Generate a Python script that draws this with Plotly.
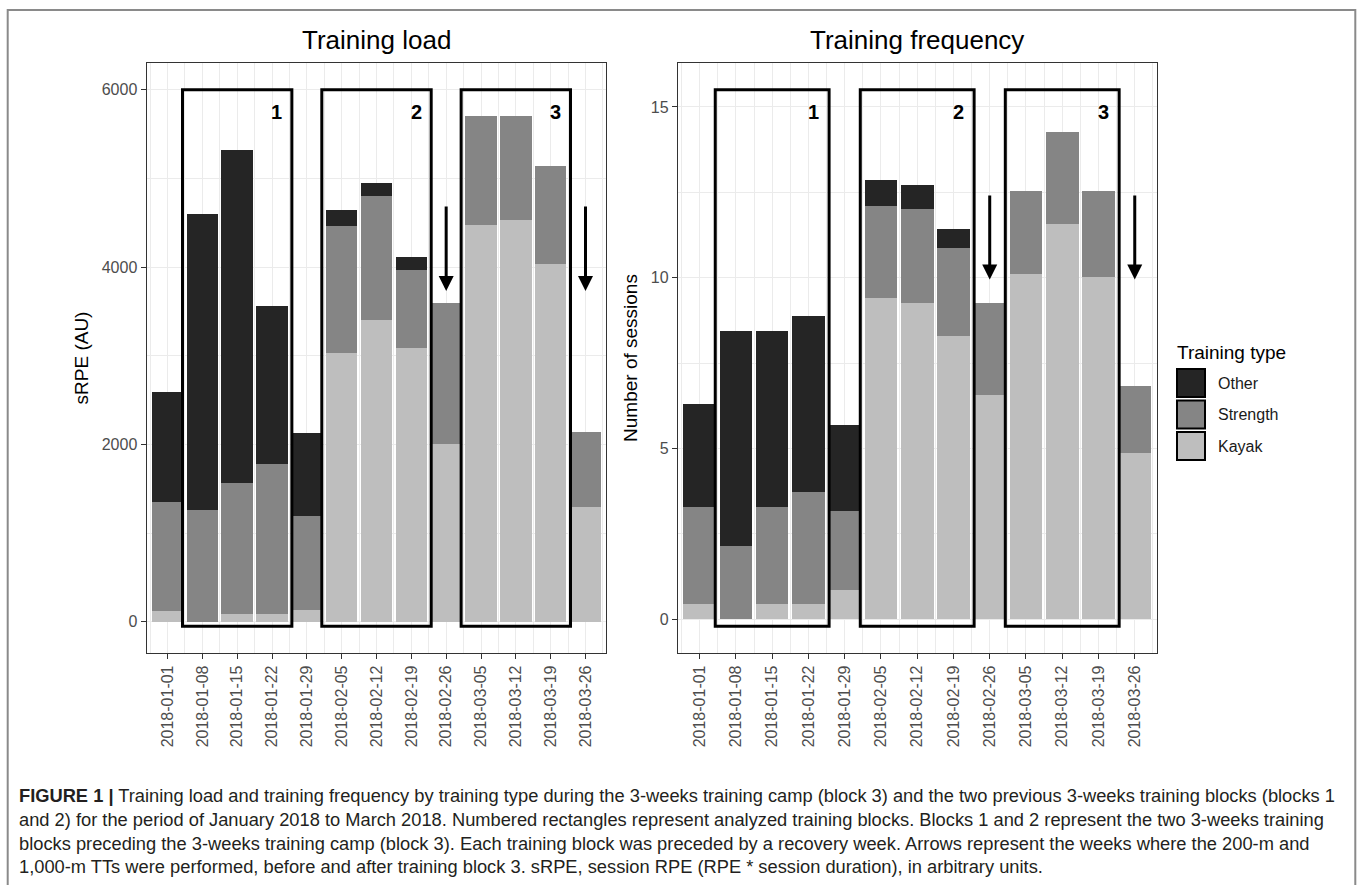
import plotly.graph_objects as go

# ---------------- data ----------------
weeks = ["2018-01-01", "2018-01-08", "2018-01-15", "2018-01-22", "2018-01-29",
         "2018-02-05", "2018-02-12", "2018-02-19", "2018-02-26", "2018-03-05",
         "2018-03-12", "2018-03-19", "2018-03-26"]

load_kayak = [117, 0, 90, 90, 128, 3036, 3405, 3093, 2010, 4479, 4528, 4031, 1296]
load_strength = [1235, 1266, 1477, 1692, 1062, 1431, 1394, 873, 1580, 1224, 1175, 1114, 843]
load_other = [1243, 3333, 3759, 1777, 934, 181, 150, 151, 0, 0, 0, 0, 0]

freq_kayak = [0.44, 0.0, 0.44, 0.44, 0.86, 9.42, 9.26, 8.30, 6.58, 10.12, 11.58, 10.02, 4.88]
freq_strength = [2.84, 2.16, 2.84, 3.28, 2.31, 2.69, 2.74, 2.57, 2.68, 2.43, 2.69, 2.53, 1.96]
freq_other = [3.01, 6.27, 5.15, 5.15, 2.53, 0.76, 0.71, 0.55, 0, 0, 0, 0, 0]

types = ["Other", "Strength", "Kayak"]
type_colors = ["#252525", "#858585", "#bebebe"]

block_labels = ["1", "2", "3"]
block_first = ["2018-01-08", "2018-02-05", "2018-03-05"]
block_last = ["2018-01-22", "2018-02-19", "2018-03-19"]
tt_weeks = ["2018-02-26", "2018-03-26"]

panel_titles = ["Training load", "Training frequency"]
y_titles = ["sRPE (AU)", "Number of sessions"]
y_ticks_load = [0, 2000, 4000, 6000]
y_ticks_freq = [0, 5, 10, 15]

caption_lines = [
    "<b>FIGURE 1 |</b> Training load and training frequency by training type during the 3-weeks training camp (block 3) and the two previous 3-weeks training blocks (blocks 1",
    "and 2) for the period of January 2018 to March 2018. Numbered rectangles represent analyzed training blocks. Blocks 1 and 2 represent the two 3-weeks training",
    "blocks preceding the 3-weeks training camp (block 3). Each training block was preceded by a recovery week. Arrows represent the weeks where the 200-m and",
    "1,000-m TTs were performed, before and after training block 3. sRPE, session RPE (RPE * session duration), in arbitrary units.",
]

# ---------------- layout constants ----------------
W, H = 1358, 885
FONT = "Liberation Sans, Arial, Helvetica, sans-serif"
pos = list(range(1, len(weeks) + 1))

def px_x(p):
    return p / W

def px_y(p):
    return 1 - p / H

dom_y = [px_y(653), px_y(63)]
dom_x1 = [px_x(146.6), px_x(606.4)]
dom_x2 = [px_x(677.9), px_x(1156.5)]

fig = go.Figure()

col = dict(zip(types, type_colors))
for xa, ya, kay, st, oth in [("x", "y", load_kayak, load_strength, load_other),
                             ("x2", "y2", freq_kayak, freq_strength, freq_other)]:
    for name, vals in [("Kayak", kay), ("Strength", st), ("Other", oth)]:
        fig.add_trace(go.Bar(x=pos, y=vals, name=name, width=0.9,
                             marker=dict(color=col[name], line=dict(width=0)),
                             xaxis=xa, yaxis=ya, showlegend=False))

def xaxis(domain, anchor):
    return dict(domain=domain, anchor=anchor, range=[0.4, 13.6],
                tickmode="array", tickvals=pos, ticktext=weeks, tickangle=-90,
                ticks="outside", ticklen=5, tickwidth=1, tickcolor="#333333",
                showline=True, mirror=True, linecolor="#333333", linewidth=1.2,
                showgrid=True, gridcolor="#ebebeb", gridwidth=1.1, zeroline=False,
                tickfont=dict(family=FONT, size=16, color="#4d4d4d"),
                minor=dict(tickmode="linear", tick0=0.5, dtick=1, showgrid=True,
                           gridcolor="#ebebeb", gridwidth=0.6, ticks=""))

def yaxis(domain, anchor, rng, tickvals, minor_d, title):
    return dict(domain=domain, anchor=anchor, range=rng,
                tickmode="array", tickvals=tickvals,
                ticks="outside", ticklen=5, tickwidth=1, tickcolor="#333333",
                showline=True, mirror=True, linecolor="#333333", linewidth=1.2,
                showgrid=True, gridcolor="#ebebeb", gridwidth=1.1, zeroline=False,
                tickfont=dict(family=FONT, size=16, color="#4d4d4d"),
                title=dict(text=title, font=dict(family=FONT, size=19, color="#000000"), standoff=8),
                minor=dict(tickmode="linear", tick0=0, dtick=minor_d, showgrid=True,
                           gridcolor="#ebebeb", gridwidth=0.6, ticks=""))

box_y = {"y": (-50, 6000), "y2": (-0.2, 15.5)}
arrow_y = {"y": (4700, 3730), "y2": (12.45, 9.95)}

fig.update_layout(
    width=W, height=H, margin=dict(l=0, r=0, t=0, b=0),
    paper_bgcolor="white", plot_bgcolor="white", barmode="stack", showlegend=False,
    font=dict(family=FONT),
    xaxis=xaxis(dom_x1, "y"),
    xaxis2=xaxis(dom_x2, "y2"),
    yaxis=yaxis(dom_y, "x", [-352.5, 6302.5], y_ticks_load, 1000, y_titles[0]),
    yaxis2=yaxis(dom_y, "x2", [-0.985, 16.285], y_ticks_freq, 2.5, y_titles[1]),
)

shapes = []
annotations = []

# block rectangles, numbers, arrows
for xa, ya in [("x", "y"), ("x2", "y2")]:
    y0, y1 = box_y[ya]
    for lab, f, l in zip(block_labels, block_first, block_last):
        i0 = weeks.index(f) + 1
        i1 = weeks.index(l) + 1
        shapes.append(dict(type="rect", xref=xa, yref=ya, x0=i0 - 0.57, x1=i1 + 0.57,
                           y0=y0, y1=y1, line=dict(color="black", width=3),
                           fillcolor="rgba(0,0,0,0)", layer="above"))
        annotations.append(dict(xref=xa, yref=ya, x=i1 + 0.14, y=y1, yanchor="top",
                                yshift=-9, text="<b>%s</b>" % lab, showarrow=False,
                                font=dict(family=FONT, size=20, color="black")))
    tail, tip = arrow_y[ya]
    for wk in tt_weeks:
        xi = weeks.index(wk) + 1
        annotations.append(dict(xref=xa, yref=ya, x=xi, y=tip, axref=xa, ayref=ya,
                                ax=xi, ay=tail, text="", showarrow=True,
                                arrowhead=2, arrowsize=1.0, arrowwidth=3,
                                arrowcolor="black"))

# panel titles
for t, d in zip(panel_titles, [dom_x1, dom_x2]):
    annotations.append(dict(xref="paper", yref="paper", x=(d[0] + d[1]) / 2, y=px_y(40),
                            xanchor="center", yanchor="middle", text=t, showarrow=False,
                            font=dict(family=FONT, size=26, color="black")))

# manual legend
lx0, lx1 = 1177, 1205
annotations.append(dict(xref="paper", yref="paper", x=px_x(lx0 - 2), y=px_y(352),
                        xanchor="left", yanchor="middle", text="Training type",
                        showarrow=False, font=dict(family=FONT, size=19, color="black")))
for k, name in enumerate(types):
    cy = 383 + 31.5 * k
    shapes.append(dict(type="rect", xref="paper", yref="paper",
                       x0=px_x(lx0), x1=px_x(lx1), y0=px_y(cy + 14), y1=px_y(cy - 14),
                       line=dict(color="black", width=2), fillcolor=col[name]))
    annotations.append(dict(xref="paper", yref="paper", x=px_x(1216), y=px_y(cy),
                            xanchor="left", yanchor="middle", text=name, showarrow=False,
                            font=dict(family=FONT, size=16, color="#1a1a1a")))

# caption
annotations.append(dict(xref="paper", yref="paper", x=px_x(17), y=px_y(783),
                        xanchor="left", yanchor="top", align="left",
                        text="<br>".join(caption_lines), showarrow=False,
                        font=dict(family=FONT, size=18.3, color="#231f20")))

# outer frame
shapes.append(dict(type="rect", xref="paper", yref="paper", x0=px_x(7.7), x1=px_x(1355.3),
                   y0=px_y(920), y1=px_y(10), line=dict(color="#8a8a8a", width=2),
                   fillcolor="rgba(0,0,0,0)", layer="below"))

fig.update_layout(shapes=shapes, annotations=annotations)
fig.write_html("out.html")
